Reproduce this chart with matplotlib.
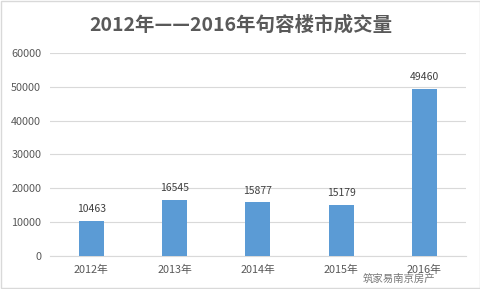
import matplotlib.pyplot as plt
from matplotlib.patches import Rectangle

plt.rcParams['font.family'] = ['Noto Sans CJK SC', 'DejaVu Sans']

years = ['2012年', '2013年', '2014年', '2015年', '2016年']
volumes = [10463, 16545, 15877, 15179, 49460]
title = '2012年——2016年句容楼市成交量'

fig = plt.figure(figsize=(4.81, 2.89), dpi=100)
ax = fig.add_axes([0.103, 0.114, 0.866, 0.703])

x = range(len(years))
bars = ax.bar(x, volumes, width=0.3, color='#5b9bd5', zorder=3)
for xi, v in zip(x, volumes):
    ax.text(xi, v + 2000, str(v), ha='center', va='bottom', fontsize=7.5, color='#404040')

ax.set_xlim(-0.5, len(years) - 0.5)
ax.set_ylim(0, 60000)
ax.set_yticks(range(0, 60001, 10000))
ax.set_xticks(list(x))
ax.set_xticklabels(years)
ax.tick_params(length=0, labelsize=7.8, colors='#595959', pad=6)
ax.grid(axis='y', color='#d9d9d9', linewidth=0.8, zorder=0)
for s in ['top', 'right', 'left']:
    ax.spines[s].set_visible(False)
ax.spines['bottom'].set_color('#d9d9d9')

fig.text(0.5, 0.915, title, ha='center', va='center', fontsize=14,
         fontweight='bold', color='#595959')
# watermark (sits below the tick labels so it does not hide them)
fig.text(0.83, 0.035, '筑家易南京房产', ha='center', va='center', fontsize=7.5,
         color='#555555', alpha=0.8)

fig.patches.append(Rectangle((0.002, 0.003), 0.996, 0.994, transform=fig.transFigure,
                             fill=False, edgecolor='#d9d9d9', linewidth=1))

fig.savefig('out.png', dpi=100)
